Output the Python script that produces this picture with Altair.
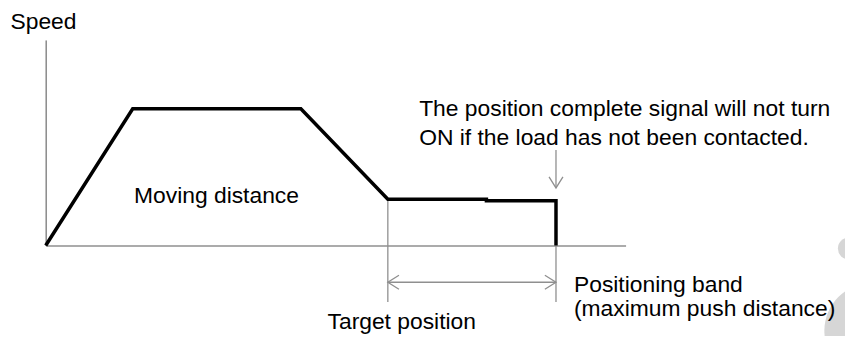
import altair as alt
import pandas as pd

FONT = "Liberation Sans, Arial, sans-serif"
GRAY = "#8f8f8f"

# Speed profile (position 0-100 along the axis, speed 0-100 along the axis)
profile_x = [0, 15, 44, 59, 76, 76, 88, 88]
profile_y = [0, 66.5, 66.5, 22.5, 22.5, 21.8, 21.8, 0]

target_pos = 59
band_end = 88
guide_bottom = -27.5
band_arrow_y = -17.9
signal_arrow_top = 46.4
signal_arrow_tip = 28.0

center_text = ["Moving distance", "Target position"]
center_x = [29.45, 61.4]
center_y = [20.8, -40.6]

left_text = [
    "The position complete signal will not turn",
    "ON if the load has not been contacted.",
    "Positioning band",
    "(maximum push distance)",
]
left_x = [64.4, 64.4, 91.1, 91.1]
left_y = [62.8, 48.8, -22.7, -34.3]

deco_x = [138.5, 142.5]
deco_y = [-1.45, -41.5]
deco_d = [22, 96]

prof = pd.DataFrame({"x": profile_x, "y": profile_y, "i": list(range(len(profile_x)))})
guides = pd.DataFrame({
    "x": [target_pos, band_end],
    "y": [profile_y[3], 0],
    "y2": [guide_bottom, guide_bottom],
})
band = pd.DataFrame({"x": [target_pos], "x2": [band_end], "y": [band_arrow_y]})
sig = pd.DataFrame({"x": [band_end], "y": [signal_arrow_top], "y2": [signal_arrow_tip]})
ctext = pd.DataFrame({"x": center_x, "y": center_y, "t": center_text})
ltext = pd.DataFrame({"x": left_x, "y": left_y, "t": left_text})
deco = pd.DataFrame({"x": deco_x, "y": deco_y, "s": [d * d for d in deco_d]})

xs = alt.Scale(domain=[0, 100], nice=False, zero=False)
ys = alt.Scale(domain=[0, 100], nice=False, zero=False)

x_axis = alt.Axis(
    domain=True, domainColor=GRAY, domainWidth=1.6, ticks=False,
    labels=False, grid=False, title=None)
y_axis = alt.Axis(
    domain=True, domainColor=GRAY, domainWidth=1.6, ticks=False,
    labels=False, grid=False, title="Speed", titleAngle=0,
    titleAlign="left", titleBaseline="alphabetic", titleX=-36, titleY=-12,
    titleFont=FONT, titleFontSize=23, titleFontWeight="normal",
    titleColor="#000000")

def X(f="x"):
    return alt.X(f"{f}:Q", scale=xs, axis=x_axis)

def Y(f="y"):
    return alt.Y(f"{f}:Q", scale=ys, axis=y_axis)

deco_layer = alt.Chart(deco).mark_circle(color="#d6d6d6", opacity=1).encode(
    x=X(), y=Y(), size=alt.Size("s:Q", scale=None)
)

guide_layer = alt.Chart(guides).mark_rule(color=GRAY, strokeWidth=1.3).encode(
    x=X(), y=Y(), y2="y2:Q"
)
band_layer = alt.Chart(band).mark_rule(color=GRAY, strokeWidth=1.3).encode(
    x=X(), x2="x2:Q", y=Y()
)
sig_layer = alt.Chart(sig).mark_rule(color=GRAY, strokeWidth=1.3).encode(
    x=X(), y=Y(), y2="y2:Q"
)

def head(df, path):
    return alt.Chart(df).mark_point(
        shape=path, filled=False, stroke=GRAY, strokeWidth=1.3, size=196, opacity=1
    ).encode(x=X(), y=Y())

left_head = head(pd.DataFrame({"x": [target_pos], "y": [band_arrow_y]}), "M1.6,-1L0,0L1.6,1")
right_head = head(pd.DataFrame({"x": [band_end], "y": [band_arrow_y]}), "M-1.6,-1L0,0L-1.6,1")
down_head = head(pd.DataFrame({"x": [band_end], "y": [signal_arrow_tip]}), "M-1,-1.6L0,0L1,-1.6")

profile_layer = alt.Chart(prof).mark_line(
    color="#000000", strokeWidth=3.5, strokeJoin="miter"
).encode(x=X(), y=Y(), order="i:Q")

ctext_layer = alt.Chart(ctext).mark_text(
    font=FONT, fontSize=23, color="#000000", align="center", baseline="alphabetic"
).encode(x=X(), y=Y(), text="t:N")
ltext_layer = alt.Chart(ltext).mark_text(
    font=FONT, fontSize=23, color="#000000", align="left", baseline="alphabetic"
).encode(x=X(), y=Y(), text="t:N")

chart = alt.layer(
    deco_layer, guide_layer, band_layer, sig_layer, profile_layer,
    left_head, right_head, down_head, ctext_layer, ltext_layer
).properties(
    width=584, height=207,
    autosize=alt.AutoSizeParams(type="none"),
    padding={"left": 38, "top": 31, "right": 221, "bottom": 90},
    background="white",
).configure_view(stroke=None)

chart.save("out.html", embed_options={"renderer": "svg", "actions": False})
